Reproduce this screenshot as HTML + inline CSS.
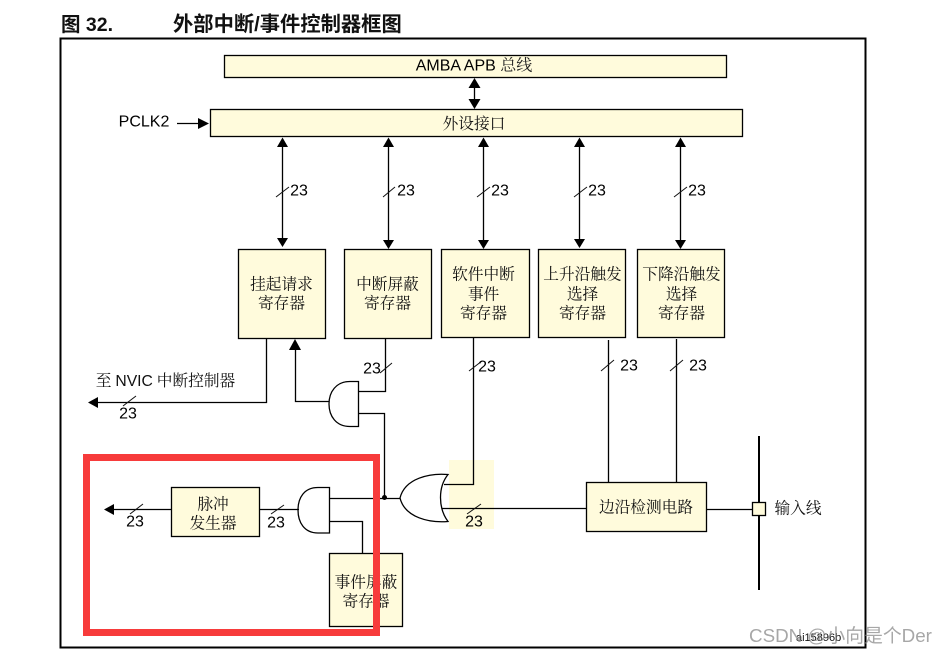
<!DOCTYPE html>
<html>
<head>
<meta charset="utf-8">
<style>
html,body{margin:0;padding:0;background:#fff;width:947px;height:655px;overflow:hidden}
svg{display:block}
.c{font-family:"Liberation Serif","Noto Serif CJK SC",serif;font-size:15.7px;fill:#111;text-anchor:middle;dominant-baseline:central;transform:translateY(1px)}
.n{font-family:"Liberation Sans","Noto Sans CJK SC",sans-serif;font-size:16px;fill:#000;text-anchor:middle;dominant-baseline:central;transform:translateY(1px)}
.t{font-family:"Liberation Sans","Noto Sans CJK SC",sans-serif;font-size:20.3px;font-weight:bold;fill:#111;dominant-baseline:central;transform:translateY(1px)}
.b{fill:#fffbdc;stroke:#000;stroke-width:1.3}
.l{fill:none;stroke:#000;stroke-width:1.3}
.s{fill:none;stroke:#111;stroke-width:1}
</style>
</head>
<body>
<svg width="947" height="655" viewBox="0 0 947 655" xmlns="http://www.w3.org/2000/svg">
<rect x="0" y="0" width="947" height="655" fill="#fff"/>
<text class="t" x="61" y="24" style="font-size:19.5px">图 32.</text>
<text class="t" x="173" y="24">外部中断/事件控制器框图</text>
<rect x="60.500" y="38.500" width="805" height="609" fill="none" stroke="#000" stroke-width="2"/>

<rect class="b" x="224.500" y="55.500" width="502" height="22"/>
<text class="n" x="474" y="64.500"><tspan>AMBA APB </tspan><tspan font-family="Liberation Serif,Noto Serif CJK SC,serif" fill="#222">总线</tspan></text>
<rect class="b" x="210.500" y="109.500" width="532" height="27"/>
<text class="c" x="474" y="123.500">外设接口</text>
<text class="n" x="144" y="121">PCLK2</text>
<path class="l" d="M177 123.500H199"/>
<path d="M198 118L209 123.500L198 129Z" fill="#000"/>

<!-- AMBA double arrow -->
<path class="l" d="M474.500 85V101"/>
<path d="M474.500 78L480.500 88H468.500ZM474.500 109L480.500 99H468.500Z" fill="#000"/>

<!-- Top bus arrows -->
<path class="l" d="M282.500 145V240"/>
<path class="l" d="M388.500 145V240"/>
<path class="l" d="M483.500 145V240"/>
<path class="l" d="M579.500 145V240"/>
<path class="l" d="M680.500 145V240"/>
<path fill="#000" d="M282.500 137.500L288 147H277ZM282.500 247L288 238H277Z
M388.500 137.500L394 147H383ZM388.500 249L394 240H383Z
M483.500 137.500L489 147H478ZM483.500 249L489 240H478Z
M579.500 137.500L585 147H574ZM579.500 248L585 239H574Z
M680.500 137.500L686 147H675ZM680.500 249L686 240H675Z"/>
<path class="s" d="M276 197L289 187M383 197L395 187M477 197L490 187M574 197L587 187M674 197L687 187"/>
<text class="n" x="299" y="190">23</text>
<text class="n" x="406" y="190">23</text>
<text class="n" x="500" y="190">23</text>
<text class="n" x="597" y="190">23</text>
<text class="n" x="697" y="190">23</text>

<!-- Registers -->
<rect class="b" x="238.500" y="249.500" width="87" height="89"/>
<rect class="b" x="344.500" y="249.500" width="87" height="89"/>
<rect class="b" x="441.500" y="249.500" width="88" height="88"/>
<rect class="b" x="538.500" y="249.500" width="87" height="88"/>
<rect class="b" x="637.500" y="249.500" width="87" height="88"/>
<text class="c" x="281.500" y="284">挂起请求</text><text class="c" x="281.500" y="303">寄存器</text>
<text class="c" x="387.500" y="284">中断屏蔽</text><text class="c" x="387.500" y="303">寄存器</text>
<text class="c" x="483.500" y="274">软件中断</text><text class="c" x="483.500" y="294">事件</text><text class="c" x="483.500" y="313">寄存器</text>
<text class="c" x="582.500" y="274">上升沿触发</text><text class="c" x="582.500" y="294">选择</text><text class="c" x="582.500" y="313">寄存器</text>
<text class="c" x="681.500" y="274">下降沿触发</text><text class="c" x="681.500" y="294">选择</text><text class="c" x="681.500" y="313">寄存器</text>

<!-- NVIC output -->
<path class="l" d="M266.500 339V402.500H96"/>
<path d="M88 402.500L98 397V408Z" fill="#000"/>
<text class="c" x="165.500" y="380"><tspan>至 </tspan><tspan font-family="Liberation Sans">NVIC</tspan><tspan> 中断控制器</tspan></text>
<path class="s" d="M123 406L136 396"/>
<text class="n" x="128" y="413">23</text>

<!-- AND gate 1 -->
<path class="l" d="M295.500 349V401.500H329"/>
<path d="M295 339L301 350H289Z" fill="#000"/>
<path class="l" d="M358.500 381.500H350C336 381.500 329 392 329 404C329 416 336 426.500 350 426.500H358.500Z"/>
<path class="l" d="M358 391.500H385.500V338M358 413.500H384.500V497"/>
<path class="s" d="M380 373L392 363"/>
<text class="n" x="372" y="368">23</text>

<!-- Yellow highlight -->
<rect x="449" y="460" width="45" height="69" fill="#fffbdc"/>

<!-- OR gate -->
<path class="l" d="M448 474.500C430 473 405 478 400 498C405 518 430 523 448 521.500C438 508 438 487 448 474.500Z"/>
<path class="l" d="M444 484.500H473.500V338"/>
<path class="l" d="M442 508.500H586"/>
<path class="s" d="M467 514L481 504"/>
<text class="n" x="474" y="521">23</text>
<path class="s" d="M469 371L482 361"/>
<text class="n" x="487" y="366">23</text>

<!-- Junction -->
<circle cx="384.500" cy="497.500" r="2.500" fill="#000"/>
<path class="l" d="M329 498.500H400"/>

<!-- AND gate 2 -->
<path class="l" d="M329.500 487.500H318C304 487.500 298 498 298 510C298 522 304 533 318 533H329.500Z"/>
<path class="l" d="M260 509.500H299"/>
<path class="l" d="M329 521.500H362.500V553"/>
<path class="s" d="M271 514L284 505"/>
<text class="n" x="276" y="522">23</text>

<!-- Pulse generator -->
<rect class="b" x="171.500" y="487.500" width="88" height="49"/>
<text class="c" x="213" y="504">脉冲</text><text class="c" x="213" y="523">发生器</text>
<path class="l" d="M112 509.500H171"/>
<path d="M104 509.500L114 504V515Z" fill="#000"/>
<path class="s" d="M130 514L143 504"/>
<text class="n" x="135" y="521">23</text>

<!-- Event mask -->
<rect class="b" x="329.500" y="553.500" width="73" height="73"/>
<text class="c" x="366" y="582">事件屏蔽</text><text class="c" x="366" y="601">寄存器</text>

<!-- Edge detection -->
<path class="l" d="M608.500 340V484M676.500 339V483"/>
<path class="s" d="M601 371L614 360M670 371L683 360"/>
<text class="n" x="629" y="365">23</text>
<text class="n" x="698" y="365">23</text>
<rect class="b" x="586.500" y="482.500" width="120" height="49"/>
<text class="c" x="646" y="507">边沿检测电路</text>
<path class="l" d="M707 509.500H752"/>
<path d="M759 436V590" fill="none" stroke="#000" stroke-width="2"/>
<rect class="b" x="752.500" y="502.500" width="13" height="13"/>
<text class="c" x="798" y="508">输入线</text>

<!-- Red box -->
<rect x="86.500" y="457.500" width="290" height="175" fill="none" stroke="#f73b3b" stroke-width="7"/>

<text x="796" y="641" font-family="Liberation Sans,sans-serif" font-size="11" fill="#111">ai15896b</text>
<text x="749" y="642" font-family="Liberation Sans,Noto Sans CJK SC,sans-serif" font-size="18.800" fill="#8a8a8a" fill-opacity="0.75">CSDN @小向是个Der</text>
</svg>
</body>
</html>
